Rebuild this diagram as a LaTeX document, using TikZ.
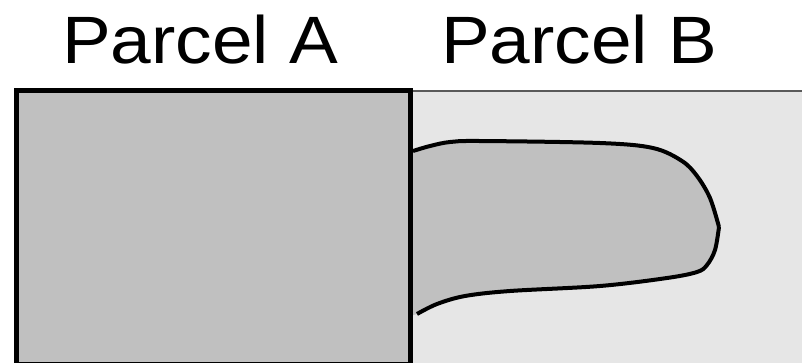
\documentclass[tikz,border=0pt]{standalone}
\usepackage{fontspec}
\setmainfont{Liberation Sans}
\definecolor{parcelA}{HTML}{C0C0C0}
\definecolor{parcelB}{HTML}{E6E6E6}
\definecolor{edgeB}{HTML}{5A5A5A}
\begin{document}
\begin{tikzpicture}[x=1pt,y=-1pt,
  title/.style={anchor=base,inner sep=0pt,font=\fontsize{67}{70}\selectfont},
  lot/.style={line join=miter},
  outline/.style={line width=4pt,line cap=butt}]
\useasboundingbox (0,0) rectangle (802,362);
\clip (0,0) rectangle (802,362);
% parcel B ground
\fill[parcelB] (411,90.5) rectangle (820,380);
\draw[edgeB,line width=2pt] (411,90.5) -- (820,90.5);
% building footprint reaching into parcel B
\def\upperedge{(413,151) (430,146) (450,142) (480,141) (600,143) (653,148) (682,161) (697,176) (710,198) (719,227)}
\def\loweredge{(719,227) (715,250) (707,265) (697,272) (667,278) (600,286) (510,291) (465,296) (437,304) (417,314)}
\fill[parcelA] (410,152) plot[smooth,tension=0.55] coordinates \upperedge
  -- plot[smooth,tension=0.55] coordinates \loweredge -- (410,316) -- cycle;
\draw[outline] plot[smooth,tension=0.55] coordinates \upperedge;
\draw[outline] plot[smooth,tension=0.55] coordinates \loweredge;
% parcel A
\draw[lot,fill=parcelA,line width=5pt] (16,90.5) rectangle (410.5,364);
% titles
\node[title] (ta) at (200,63) {\scalebox{1.09}[1]{Parcel A}};
\node[title] (tb) at (579,63) {\scalebox{1.09}[1]{Parcel B}};
\end{tikzpicture}
\end{document}
